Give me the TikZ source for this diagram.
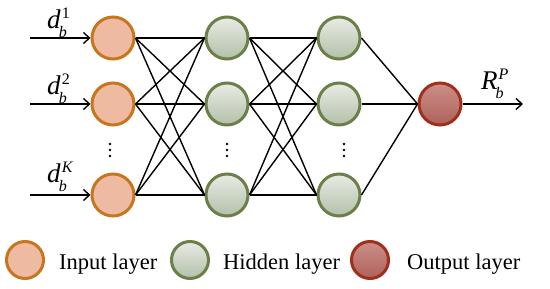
\documentclass[tikz,border=0pt]{standalone}
\usepackage{fontspec}
\setmainfont{Liberation Serif}
\usetikzlibrary{arrows.meta}
\definecolor{inFill}{HTML}{EEBBA2}
\definecolor{inDraw}{HTML}{C8761E}
\definecolor{hidTop}{HTML}{E8ECE4}
\definecolor{hidBot}{HTML}{B3BFAA}
\definecolor{hidDraw}{HTML}{6B8048}
\definecolor{outTop}{HTML}{CC8E88}
\definecolor{outBot}{HTML}{AE625C}
\definecolor{outDraw}{HTML}{A0301C}
\newcommand{\mylbl}[3]{\fontsize{27}{27}\selectfont\textit{#1}\rlap{\kern-2pt\raisebox{-0.3em}{\fontsize{16}{16}\selectfont\textit{#2}}}\raisebox{0.4em}{\fontsize{16}{16}\selectfont\kern1pt #3}}
\tikzset{
  neuron/.style={circle, line width=3pt, minimum size=42pt, inner sep=0pt},
  inneuron/.style={neuron, draw=inDraw, fill=inFill},
  hidneuron/.style={neuron, draw=hidDraw, top color=hidTop, bottom color=hidBot},
  outneuron/.style={neuron, draw=outDraw, top color=outTop, bottom color=outBot},
  legcirc/.style={minimum size=37pt},
  conn/.style={line width=1.4pt},
  inarrow/.style={line width=1.4pt, -{Straight Barb[length=6pt,width=11pt,line width=1.4pt]}},
  lbl/.style={inner sep=0pt, anchor=base west},
  legtext/.style={inner sep=0pt, anchor=base west, font=\fontsize{22.5}{22.5}\selectfont},
  dotmark/.style={fill=black}
}
\newcommand{\vdotsat}[2]{\fill[dotmark] (#1,#2+6) circle (1.3pt); \fill[dotmark] (#1,#2) circle (1.3pt); \fill[dotmark] (#1,#2-6) circle (1.3pt);}
\begin{document}
\begin{tikzpicture}[x=1pt,y=1pt]
\useasboundingbox (0,0) rectangle (550,289);
% input layer
\node[inneuron] (i1) at (113,251) {};
\node[inneuron] (i2) at (113,185) {};
\node[inneuron] (i3) at (113,94) {};
% hidden 1
\node[hidneuron] (h1) at (227,251) {};
\node[hidneuron] (h2) at (227,185) {};
\node[hidneuron] (h3) at (227,94) {};
% hidden 2
\node[hidneuron] (g1) at (339,251) {};
\node[hidneuron] (g2) at (339,185) {};
\node[hidneuron] (g3) at (339,94) {};
% output
\node[outneuron] (o) at (440,185) {};
% dots
\vdotsat{110}{139}
\vdotsat{227}{139}
\vdotsat{344}{139}
% connections
\foreach \a in {i1,i2,i3}{\foreach \b in {h1,h2,h3}{\draw[conn] (\a.east) -- (\b.west);}}
\foreach \a in {h1,h2,h3}{\foreach \b in {g1,g2,g3}{\draw[conn] (\a.east) -- (\b.west);}}
\foreach \a in {g1,g2,g3}{\draw[conn] (\a.east) -- (o.west);}
% input arrows
\coordinate (s1) at (30,251);
\coordinate (s2) at (30,185);
\coordinate (s3) at (30,94);
\coordinate (e) at (523,185);
\draw[inarrow] (s1) -- (i1.west);
\draw[inarrow] (s2) -- (i2.west);
\draw[inarrow] (s3) -- (i3.west);
\draw[inarrow] (o.east) -- (e);
% labels
\node[lbl] (l1) at (47,260) {\mylbl{d}{b}{1}};
\node[lbl] (l2) at (47,194) {\mylbl{d}{b}{2}};
\node[lbl] (l3) at (47,106) {\mylbl{d}{b}{\textit{K}}};
\node[lbl] (lr) at (481,199) {\mylbl{R}{b}{\textit{P}}};
% legend
\node[inneuron, legcirc] (li) at (25,29) {};
\node[legtext] (ti) at (59,19) {Input layer};
\node[hidneuron, legcirc] (lh) at (190,29) {};
\node[legtext] (th) at (223,19) {Hidden layer};
\node[outneuron, legcirc] (lo) at (370,29) {};
\node[legtext] (to) at (407,19) {Output layer};
\end{tikzpicture}
\end{document}
